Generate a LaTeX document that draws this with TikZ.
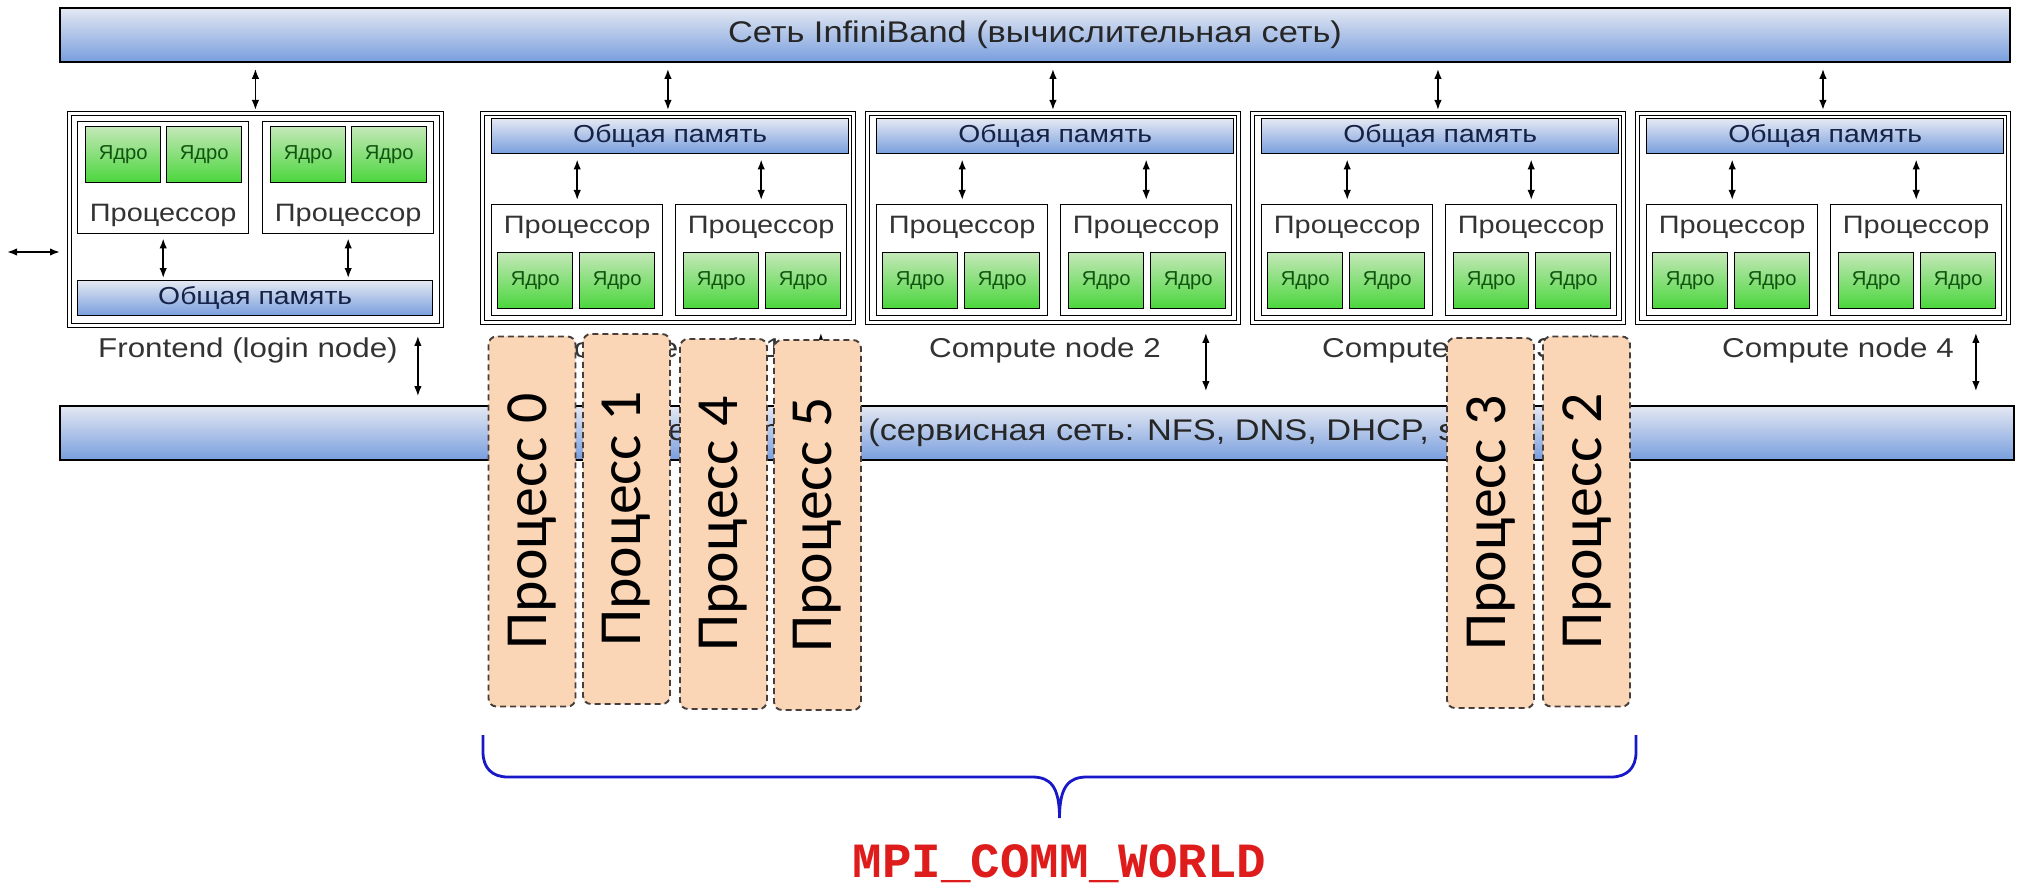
\documentclass[tikz,border=0pt]{standalone}
\usepackage{fontspec}
\setmainfont{Liberation Sans}
\newfontfamily\widefont[FakeStretch=1.15]{Liberation Sans}
\newfontfamily\rankfont{Carlito}
\newfontfamily\commfont{Liberation Mono}
\usetikzlibrary{arrows.meta,positioning,shadings}

\definecolor{barTop}{RGB}{228,232,242}
\definecolor{barBot}{RGB}{120,158,222}
\definecolor{coreTop}{RGB}{196,232,184}
\definecolor{coreBot}{RGB}{74,214,60}
\definecolor{coreText}{RGB}{16,84,16}
\definecolor{memText}{RGB}{22,34,70}
\definecolor{rankFill}{RGB}{251,214,182}
\definecolor{rankLine}{RGB}{70,62,60}
\definecolor{braceBlue}{RGB}{24,24,200}
\definecolor{worldRed}{RGB}{222,28,28}

\tikzset{
  netbar/.style={draw, line width=0.9pt, top color=barTop, bottom color=barBot, inner sep=0, minimum height=10.8mm, font=\widefont\fontsize{17}{20}\selectfont, text=black!85},
  hostbox/.style={draw, double, line width=0.5pt, double distance=0.5mm, anchor=north west, minimum width=74.2mm, minimum height=41.8mm, inner sep=0},
  membar/.style={draw, line width=0.8pt, top color=barTop, bottom color=barBot, anchor=north west, minimum width=71.4mm, minimum height=7mm, inner sep=0, font=\widefont\fontsize{14}{17}\selectfont, text=memText},
  cpubox/.style={draw, line width=0.8pt, fill=white, anchor=north west, minimum width=34.2mm, minimum height=22.2mm, inner sep=0},
  corebox/.style={draw, line width=0.8pt, top color=coreTop, bottom color=coreBot, anchor=north west, minimum width=15mm, minimum height=11.2mm, inner sep=0, font=\fontsize{11.5}{13}\selectfont, text=coreText},
  proctext/.style={inner sep=0, font=\widefont\fontsize{14.3}{17}\selectfont, text=black!80},
  hostlabel/.style={inner sep=0, font=\widefont\fontsize{15.5}{18}\selectfont, text=black!80},
  conn/.style={<->, line width=1pt},
  rankbox/.style={draw=rankLine, line width=1.1pt, dash pattern=on 1.2mm off 0.8mm, fill=rankFill, rounded corners=1.6mm, rotate=90, minimum width=74mm, minimum height=17.4mm, inner sep=0, font=\rankfont\fontsize{34}{40}\selectfont},
}

\begin{document}
\begin{tikzpicture}[x=0.2mm, y=-0.2mm, >={Latex[length=2mm,width=1.5mm]}]
\useasboundingbox (0,0) rectangle (2019,889);

% networks
\node[netbar, minimum width=390mm] (ib) at (1035,35) {Сеть InfiniBand (вычислительная сеть)};
\node[netbar, minimum width=390.8mm] (eth) at (1037,433) {};
\node[anchor=west, inner sep=0, font=\widefont\fontsize{17}{20}\selectfont, text=black!85] (ethtext) at (868,433) {\llap{Сеть Ethernet }(сервисная сеть: NFS, DNS, DHCP, ssh)};

% frontend
\node[hostbox, minimum width=74.4mm, minimum height=42.4mm] (fe) at (69,113) {};
\node[cpubox, minimum height=22.4mm] (fpa) at (77,121) {};
\node[cpubox, minimum height=22.4mm] (fpb) at (262,121) {};
\node[corebox] (fca) at (85,126) {Ядро};
\node[corebox] (fcb) at (166,126) {Ядро};
\node[corebox] (fcc) at (270,126) {Ядро};
\node[corebox] (fcd) at (351,126) {Ядро};
\node[proctext, above=1.5mm of fpa.south] {Процессор};
\node[proctext, above=1.5mm of fpb.south] {Процессор};
\node[membar, minimum width=71mm] (fmem) at (77,280) {Общая память};
\node[hostlabel] (felbl) at (248,350) {Frontend (login node)};
\coordinate (ext) at (7,252);
\coordinate (fdn) at ([xshift=-4.8mm]fe.south east);
\draw[conn, shorten <=1.2mm, shorten >=0.6mm] (ib.south -| fe.north) -- (fe.north);
\draw[conn, shorten <=0.8mm, shorten >=0.4mm] (fpa.south) -- (fpa.south |- fmem.north);
\draw[conn, shorten <=0.8mm, shorten >=0.4mm] (fpb.south) -- (fpb.south |- fmem.north);
\draw[conn, shorten >=1.8mm] (ext) -- (ext -| fe.west);
\draw[conn, shorten <=2mm, shorten >=1.8mm] (fdn) -- (fdn |- eth.north);

% compute nodes
\foreach \i/\L/\lx in {1/482/667, 2/867/1045, 3/1252/1438, 4/1637/1838}{
  \node[hostbox] (cn\i) at (\L,113) {};
  \node[membar] (mem\i) at (\L+9,118) {Общая память};
  \node[cpubox] (pa\i) at (\L+9,204) {};
  \node[cpubox] (pb\i) at (\L+193,204) {};
  \node[proctext, below=2.4mm of pa\i.north] {Процессор};
  \node[proctext, below=2.4mm of pb\i.north] {Процессор};
  \node[corebox] (ca\i) at (\L+15,252) {Ядро};
  \node[corebox] (cb\i) at (\L+97,252) {Ядро};
  \node[corebox] (cc\i) at (\L+201,252) {Ядро};
  \node[corebox] (cd\i) at (\L+283,252) {Ядро};
  \node[hostlabel] (lbl\i) at (\lx,350) {Compute node \i};
  \coordinate (dn\i) at ([xshift=-6.6mm]cn\i.south east);
  \draw[conn, shorten <=1.2mm, shorten >=0.6mm] (ib.south -| cn\i.north) -- (cn\i.north);
  \draw[conn, shorten <=1mm, shorten >=0.8mm] (mem\i.south -| pa\i.north) -- (pa\i.north);
  \draw[conn, shorten <=1mm, shorten >=0.8mm] (mem\i.south -| pb\i.north) -- (pb\i.north);
  \draw[conn, shorten <=2mm, shorten >=2.8mm] (dn\i) -- (dn\i |- eth.north);
}

% MPI processes
\node[rankbox] (r0) at (532,521.5) {Процесс 0};
\node[rankbox] (r1) at (626.5,519) {Процесс 1};
\node[rankbox] (r4) at (723.5,524) {Процесс 4};
\node[rankbox] (r5) at (817.5,525) {Процесс 5};
\node[rankbox] (r3) at (1490.5,523) {Процесс 3};
\node[rankbox] (r2) at (1586.5,521.5) {Процесс 2};

% communicator brace
\coordinate (bl) at (483,735);
\coordinate (br) at (1636,735);
\coordinate (tip) at (1059.5,818);
\draw[braceBlue, line width=1.6pt] (bl) -- (483,752) .. controls (483,768) and (492,777) .. (508,777) -- (1032,777) .. controls (1050,777) and (1059.5,786) .. (tip) .. controls (1059.5,786) and (1069,777) .. (1087,777) -- (1611,777) .. controls (1627,777) and (1636,768) .. (1636,752) -- (br);
\node[font=\commfont\bfseries\fontsize{28}{32}\selectfont, text=worldRed] (world) at (1059.5,864) {MPI\_COMM\_WORLD};
\end{tikzpicture}
\end{document}
